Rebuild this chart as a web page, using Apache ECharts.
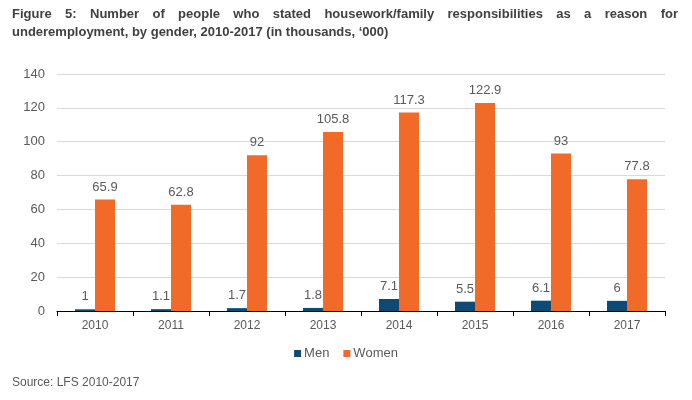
<!DOCTYPE html>
<html><head><meta charset="utf-8">
<script src="https://cdn.jsdelivr.net/npm/echarts@6/dist/echarts.min.js"></script>
<style>html,body{margin:0;padding:0;background:#fff}#c{width:692px;height:400px}</style>
</head><body><div id="c"></div>
<script>
const years = ['2010','2011','2012','2013','2014','2015','2016','2017'];
const men = [1, 1.1, 1.7, 1.8, 7.1, 5.5, 6.1, 6];
const women = [65.9, 62.8, 92, 105.8, 117.3, 122.9, 93, 77.8];
const titleLine1 = 'Figure 5: Number of people who stated housework/family responsibilities as a reason for';
const titleLine2 = 'underemployment, by gender, 2010-2017 (in thousands, \u2018000)';
const sourceText = 'Source: LFS 2010-2017';

const chart = echarts.init(document.getElementById('c'));
const titleFont = 'bold 13px "Liberation Sans", Arial, sans-serif';
const cv = document.createElement('canvas').getContext('2d');
cv.font = titleFont;
const words = titleLine1.split(' ');
const wsum = words.reduce((s,w)=>s+cv.measureText(w).width,0);
const x0 = 12, x1 = 678;
const gap = (x1 - x0 - wsum) / (words.length - 1);
const graphics = [];
let x = x0;
words.forEach(w => {
  graphics.push({type:'text', left:x, top:8, style:{text:w, font:titleFont, fill:'#404040'}});
  x += cv.measureText(w).width + gap;
});
graphics.push({type:'text', left:x0, top:26, style:{text:titleLine2, font:titleFont, fill:'#404040'}});
graphics.push({type:'text', left:12, top:377, style:{text:sourceText, font:'12px "Liberation Sans", Arial, sans-serif', fill:'#595959'}});

const lbl = {show:true, position:'top', distance:6, color:'#595959', fontSize:13, fontFamily:'"Liberation Sans", Arial, sans-serif'};
chart.setOption({
  animation:false,
  graphic: graphics,
  grid:{left:57, right:27, top:74, bottom:89},
  legend:{bottom:35, left:'center', itemWidth:7, itemHeight:7, itemGap:14, icon:'rect',
    textStyle:{color:'#595959', fontSize:13, fontFamily:'"Liberation Sans", Arial, sans-serif', padding:[0,0,0,-2]},
    data:['Men','Women']},
  xAxis:{type:'category', data:years,
    axisLine:{lineStyle:{color:'#000', width:1}},
    axisTick:{show:true, length:5, lineStyle:{color:'#000'}},
    axisLabel:{color:'#595959', fontSize:12, margin:9, fontFamily:'"Liberation Sans", Arial, sans-serif'}},
  yAxis:{type:'value', min:0, max:140, interval:20,
    axisLine:{show:false}, axisTick:{show:false},
    splitLine:{lineStyle:{color:'#d9d9d9'}},
    axisLabel:{color:'#595959', fontSize:13, margin:12, fontFamily:'"Liberation Sans", Arial, sans-serif'}},
  series:[
    {name:'Men', type:'bar', data:men, barWidth:20, barGap:'0%', itemStyle:{color:'#0E4A73'}, label:lbl},
    {name:'Women', type:'bar', data:women, barWidth:20, itemStyle:{color:'#F26A27'}, label:lbl}
  ]
});
</script></body></html>
